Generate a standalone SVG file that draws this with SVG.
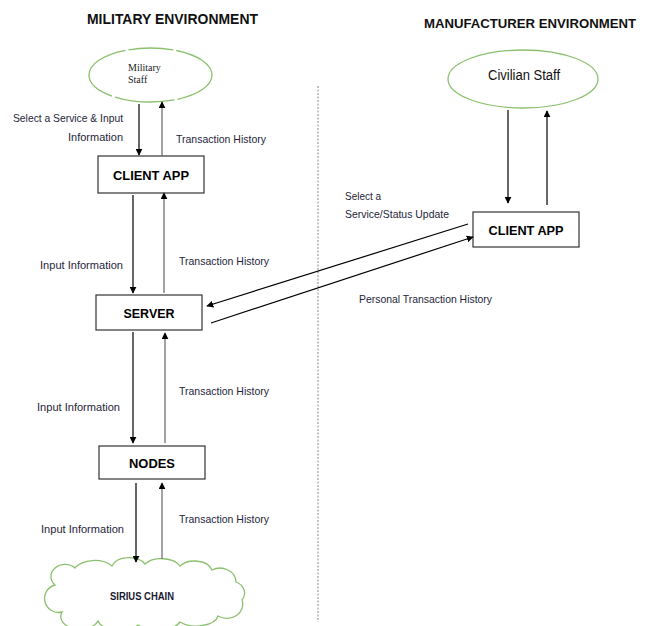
<svg xmlns="http://www.w3.org/2000/svg" width="646" height="626" viewBox="0 0 646 626">
<style>
.title{font-family:"Liberation Sans",Arial,sans-serif;font-weight:bold;font-size:14px;fill:#111}
.lbl{font-family:"Liberation Sans",Arial,sans-serif;font-size:10.5px;fill:#25253a}
.box{fill:#fff;stroke:#333;stroke-width:1.2}
.btxt{font-family:"Liberation Sans",Arial,sans-serif;font-weight:bold;font-size:13.5px;fill:#000;text-anchor:middle}
.green{fill:#fff;stroke:#8cc06e;stroke-width:1.3}
.dn{stroke:#000;stroke-width:1.2;fill:none;marker-end:url(#ah)}
.up{stroke:#666;stroke-width:1.2;fill:none;marker-end:url(#ah)}
</style>
<defs>
<marker id="ah" viewBox="0 0 10 10" refX="9" refY="5" markerWidth="7" markerHeight="7" markerUnits="userSpaceOnUse" orient="auto">
<path d="M0,0 L10,5 L0,10 Z" fill="#000"/>
</marker>
</defs>
<rect width="646" height="626" fill="#fff"/>
<text class="title" x="87" y="24" textLength="171" lengthAdjust="spacingAndGlyphs">MILITARY ENVIRONMENT</text>
<text class="title" x="424" y="28" font-size="12.5" style="font-size:12.5px" textLength="212" lengthAdjust="spacingAndGlyphs">MANUFACTURER ENVIRONMENT</text>
<line x1="318" y1="86" x2="318" y2="622" stroke="#888" stroke-width="1" stroke-dasharray="2 1.5"/>
<g id="military-staff">
<ellipse class="green" cx="150.5" cy="75" rx="61.5" ry="27" stroke-dasharray="45 3 60 3 80 3"/>
<text x="128" y="71" font-family="Liberation Serif,serif" font-size="10" fill="#222">Military</text>
<text x="128" y="83" font-family="Liberation Serif,serif" font-size="10" fill="#222">Staff</text>
</g>
<g id="client-app-mil">
<rect class="box" x="98" y="156" width="106" height="37"/>
<text class="btxt" x="151" y="180" textLength="76" lengthAdjust="spacingAndGlyphs">CLIENT APP</text>
</g>
<g id="server">
<rect class="box" x="96" y="295" width="106" height="35"/>
<text class="btxt" x="149" y="318" textLength="51" lengthAdjust="spacingAndGlyphs">SERVER</text>
</g>
<g id="nodes">
<rect class="box" x="99" y="446" width="106" height="33"/>
<text class="btxt" x="152" y="468" textLength="46" lengthAdjust="spacingAndGlyphs">NODES</text>
</g>
<g id="sirius-chain">
<path class="green" d="M55 585 A14 12 0 0 1 75 568 A22 14 0 0 1 112 566 A18 12 0 0 1 145 564 A20 12 0 0 1 180 566 A18 12 0 0 1 212 570 A16 14 0 0 1 236 582 A14 12 0 0 1 242 600 A16 14 0 0 1 218 616 A22 12 0 0 1 180 622 A24 12 0 0 1 138 625 A22 12 0 0 1 98 621 A18 12 0 0 1 62 612 A12 12 0 0 1 55 585 Z"/>
<text x="142" y="600" font-family="Liberation Sans,Arial,sans-serif" font-weight="bold" font-size="10.5" fill="#1a1a33" text-anchor="middle" textLength="64" lengthAdjust="spacingAndGlyphs">SIRIUS CHAIN</text>
</g>
<g id="civilian-staff">
<ellipse class="green" cx="523" cy="79" rx="75" ry="29"/>
<text x="524" y="80" font-family="Liberation Sans,Arial,sans-serif" font-size="14" fill="#111" text-anchor="middle" textLength="72" lengthAdjust="spacingAndGlyphs">Civilian Staff</text>
</g>
<g id="client-app-man">
<rect class="box" x="473" y="212" width="106" height="35"/>
<text class="btxt" x="526" y="235" textLength="75" lengthAdjust="spacingAndGlyphs">CLIENT APP</text>
</g>
<g id="connectors">
<line class="dn" x1="139" y1="104" x2="139" y2="155"/>
<line class="up" x1="162" y1="156" x2="162" y2="102"/>
<line class="dn" x1="133" y1="195" x2="133" y2="293"/>
<line class="up" x1="164" y1="293" x2="164" y2="193"/>
<line class="dn" x1="133" y1="332" x2="133" y2="443"/>
<line class="up" x1="165" y1="443" x2="165" y2="333"/>
<line class="dn" x1="136" y1="483" x2="136" y2="562"/>
<line class="up" x1="162" y1="559" x2="162" y2="483"/>
<line class="dn" x1="508" y1="110" x2="508" y2="203"/>
<line class="dn" x1="547" y1="205" x2="547" y2="111"/>
<line class="dn" x1="468" y1="224" x2="207" y2="306"/>
<line class="dn" x1="211" y1="323" x2="473" y2="237"/>
</g>
<g id="labels">
<text class="lbl" x="13" y="122" textLength="110" lengthAdjust="spacingAndGlyphs">Select a Service &amp; Input</text>
<text class="lbl" x="68" y="141" textLength="55" lengthAdjust="spacingAndGlyphs">Information</text>
<text class="lbl" x="176" y="143" textLength="90" lengthAdjust="spacingAndGlyphs">Transaction History</text>
<text class="lbl" x="40" y="269" textLength="83" lengthAdjust="spacingAndGlyphs">Input Information</text>
<text class="lbl" x="179" y="265" textLength="90" lengthAdjust="spacingAndGlyphs">Transaction History</text>
<text class="lbl" x="37" y="411" textLength="83" lengthAdjust="spacingAndGlyphs">Input Information</text>
<text class="lbl" x="179" y="395" textLength="90" lengthAdjust="spacingAndGlyphs">Transaction History</text>
<text class="lbl" x="41" y="533" textLength="83" lengthAdjust="spacingAndGlyphs">Input Information</text>
<text class="lbl" x="179" y="523" textLength="90" lengthAdjust="spacingAndGlyphs">Transaction History</text>
<text class="lbl" x="345" y="200" textLength="36" lengthAdjust="spacingAndGlyphs">Select a</text>
<text class="lbl" x="345" y="218" textLength="104" lengthAdjust="spacingAndGlyphs">Service/Status Update</text>
<text class="lbl" x="359" y="303" textLength="133" lengthAdjust="spacingAndGlyphs">Personal Transaction History</text>
</g>
</svg>
